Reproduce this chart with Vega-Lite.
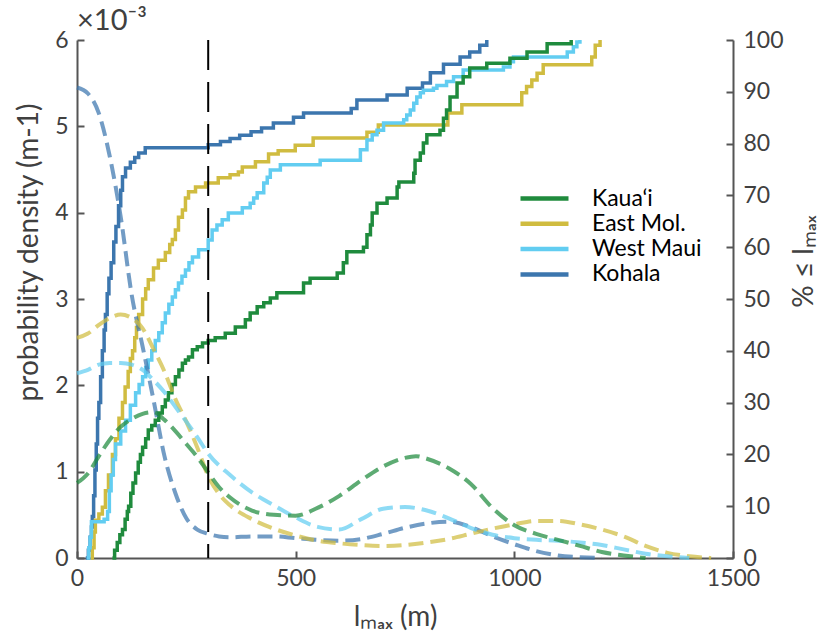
{
  "$schema": "https://vega.github.io/schema/vega-lite/v6.json",
  "width": 656,
  "height": 518,
  "autosize": {"type": "none"},
  "padding": {"left": 77, "top": 40, "right": 89, "bottom": 78},
  "background": "white",
  "title": {"text": "×10⁻³", "anchor": "start", "frame": "group", "fontSize": 29, "font": "Lato", "fontWeight": "normal", "color": "#404040", "baseline": "alphabetic", "offset": -30},
  "config": {
    "view": {"stroke": null},
    "axis": {"grid": false, "domainColor": "#555555", "domainWidth": 2, "tickColor": "#555555", "tickWidth": 2, "labelColor": "#404040", "titleColor": "#404040", "labelFont": "Lato", "titleFont": "Lato", "labelFontSize": 23, "titleFontSize": 28, "titleFontWeight": "normal"}
  },
  "datasets": {
    "cdf": [
      {"site": "Kohala", "x": 20, "pct": 0}, {"site": "Kohala", "x": 26, "pct": 1.5}, {"site": "Kohala", "x": 30, "pct": 4}, {"site": "Kohala", "x": 33, "pct": 6}, {"site": "Kohala", "x": 35, "pct": 8}, {"site": "Kohala", "x": 38, "pct": 12}, {"site": "Kohala", "x": 41, "pct": 17}, {"site": "Kohala", "x": 44, "pct": 22}, {"site": "Kohala", "x": 47, "pct": 27}, {"site": "Kohala", "x": 50, "pct": 30}, {"site": "Kohala", "x": 54, "pct": 35}, {"site": "Kohala", "x": 58, "pct": 40}, {"site": "Kohala", "x": 62, "pct": 44}, {"site": "Kohala", "x": 65, "pct": 47}, {"site": "Kohala", "x": 69, "pct": 51}, {"site": "Kohala", "x": 73, "pct": 54}, {"site": "Kohala", "x": 78, "pct": 57}, {"site": "Kohala", "x": 84, "pct": 61}, {"site": "Kohala", "x": 89, "pct": 64}, {"site": "Kohala", "x": 95, "pct": 68}, {"site": "Kohala", "x": 100, "pct": 71}, {"site": "Kohala", "x": 104, "pct": 73.6}, {"site": "Kohala", "x": 111, "pct": 75.3}, {"site": "Kohala", "x": 122, "pct": 76.4}, {"site": "Kohala", "x": 132, "pct": 77.3}, {"site": "Kohala", "x": 141, "pct": 78.2}, {"site": "Kohala", "x": 156, "pct": 79.2}, {"site": "Kohala", "x": 300, "pct": 79.8}, {"site": "Kohala", "x": 328, "pct": 80.4}, {"site": "Kohala", "x": 350, "pct": 81}, {"site": "Kohala", "x": 372, "pct": 81.6}, {"site": "Kohala", "x": 398, "pct": 82.3}, {"site": "Kohala", "x": 422, "pct": 83}, {"site": "Kohala", "x": 449, "pct": 84}, {"site": "Kohala", "x": 495, "pct": 85.1}, {"site": "Kohala", "x": 518, "pct": 85.9}, {"site": "Kohala", "x": 627, "pct": 86.8}, {"site": "Kohala", "x": 640, "pct": 88.4}, {"site": "Kohala", "x": 709, "pct": 89.4}, {"site": "Kohala", "x": 755, "pct": 90.7}, {"site": "Kohala", "x": 790, "pct": 91.7}, {"site": "Kohala", "x": 808, "pct": 93.7}, {"site": "Kohala", "x": 838, "pct": 95.3}, {"site": "Kohala", "x": 876, "pct": 96.7}, {"site": "Kohala", "x": 898, "pct": 97.7}, {"site": "Kohala", "x": 921, "pct": 99}, {"site": "Kohala", "x": 937, "pct": 100},
      {"site": "East Mol.", "x": 31, "pct": 0}, {"site": "East Mol.", "x": 35, "pct": 2}, {"site": "East Mol.", "x": 39, "pct": 5}, {"site": "East Mol.", "x": 42, "pct": 7.3}, {"site": "East Mol.", "x": 50, "pct": 8.5}, {"site": "East Mol.", "x": 58, "pct": 9.8}, {"site": "East Mol.", "x": 65, "pct": 13}, {"site": "East Mol.", "x": 72, "pct": 16}, {"site": "East Mol.", "x": 81, "pct": 20}, {"site": "East Mol.", "x": 88, "pct": 23}, {"site": "East Mol.", "x": 96, "pct": 27}, {"site": "East Mol.", "x": 104, "pct": 30}, {"site": "East Mol.", "x": 110, "pct": 33}, {"site": "East Mol.", "x": 117, "pct": 36}, {"site": "East Mol.", "x": 122, "pct": 38.5}, {"site": "East Mol.", "x": 127, "pct": 40}, {"site": "East Mol.", "x": 132, "pct": 42.5}, {"site": "East Mol.", "x": 136, "pct": 44.5}, {"site": "East Mol.", "x": 141, "pct": 47}, {"site": "East Mol.", "x": 150, "pct": 50}, {"site": "East Mol.", "x": 157, "pct": 52}, {"site": "East Mol.", "x": 163, "pct": 53.7}, {"site": "East Mol.", "x": 175, "pct": 56}, {"site": "East Mol.", "x": 186, "pct": 57.5}, {"site": "East Mol.", "x": 202, "pct": 59}, {"site": "East Mol.", "x": 212, "pct": 60.5}, {"site": "East Mol.", "x": 218, "pct": 61.5}, {"site": "East Mol.", "x": 225, "pct": 63.3}, {"site": "East Mol.", "x": 232, "pct": 65.8}, {"site": "East Mol.", "x": 241, "pct": 67.2}, {"site": "East Mol.", "x": 248, "pct": 69.5}, {"site": "East Mol.", "x": 255, "pct": 70.7}, {"site": "East Mol.", "x": 271, "pct": 71.6}, {"site": "East Mol.", "x": 294, "pct": 72.4}, {"site": "East Mol.", "x": 323, "pct": 73.4}, {"site": "East Mol.", "x": 350, "pct": 74}, {"site": "East Mol.", "x": 369, "pct": 74.5}, {"site": "East Mol.", "x": 378, "pct": 75.5}, {"site": "East Mol.", "x": 408, "pct": 76.5}, {"site": "East Mol.", "x": 438, "pct": 78}, {"site": "East Mol.", "x": 460, "pct": 78.6}, {"site": "East Mol.", "x": 499, "pct": 79.7}, {"site": "East Mol.", "x": 540, "pct": 81.1}, {"site": "East Mol.", "x": 663, "pct": 82.2}, {"site": "East Mol.", "x": 689, "pct": 83.6}, {"site": "East Mol.", "x": 848, "pct": 85.9}, {"site": "East Mol.", "x": 880, "pct": 87.5}, {"site": "East Mol.", "x": 1017, "pct": 89.8}, {"site": "East Mol.", "x": 1028, "pct": 91}, {"site": "East Mol.", "x": 1040, "pct": 92.3}, {"site": "East Mol.", "x": 1052, "pct": 93.6}, {"site": "East Mol.", "x": 1066, "pct": 95.2}, {"site": "East Mol.", "x": 1177, "pct": 96.7}, {"site": "East Mol.", "x": 1185, "pct": 99}, {"site": "East Mol.", "x": 1196, "pct": 100},
      {"site": "West Maui", "x": 22, "pct": 0}, {"site": "West Maui", "x": 27, "pct": 2}, {"site": "West Maui", "x": 30, "pct": 4}, {"site": "West Maui", "x": 33, "pct": 7}, {"site": "West Maui", "x": 62, "pct": 7.5}, {"site": "West Maui", "x": 70, "pct": 9}, {"site": "West Maui", "x": 74, "pct": 13}, {"site": "West Maui", "x": 78, "pct": 16}, {"site": "West Maui", "x": 83, "pct": 19}, {"site": "West Maui", "x": 88, "pct": 22}, {"site": "West Maui", "x": 100, "pct": 24.5}, {"site": "West Maui", "x": 111, "pct": 26.6}, {"site": "West Maui", "x": 122, "pct": 29.5}, {"site": "West Maui", "x": 134, "pct": 31.9}, {"site": "West Maui", "x": 142, "pct": 33.5}, {"site": "West Maui", "x": 150, "pct": 35}, {"site": "West Maui", "x": 157, "pct": 36.8}, {"site": "West Maui", "x": 163, "pct": 38.2}, {"site": "West Maui", "x": 171, "pct": 40}, {"site": "West Maui", "x": 179, "pct": 42}, {"site": "West Maui", "x": 187, "pct": 43.5}, {"site": "West Maui", "x": 195, "pct": 45.4}, {"site": "West Maui", "x": 202, "pct": 47.3}, {"site": "West Maui", "x": 210, "pct": 49}, {"site": "West Maui", "x": 218, "pct": 50.4}, {"site": "West Maui", "x": 225, "pct": 51.8}, {"site": "West Maui", "x": 232, "pct": 53.1}, {"site": "West Maui", "x": 240, "pct": 54.4}, {"site": "West Maui", "x": 248, "pct": 55.6}, {"site": "West Maui", "x": 256, "pct": 57}, {"site": "West Maui", "x": 264, "pct": 58.1}, {"site": "West Maui", "x": 278, "pct": 59.5}, {"site": "West Maui", "x": 300, "pct": 61.4}, {"site": "West Maui", "x": 309, "pct": 63.3}, {"site": "West Maui", "x": 320, "pct": 64.3}, {"site": "West Maui", "x": 332, "pct": 65.3}, {"site": "West Maui", "x": 346, "pct": 66.6}, {"site": "West Maui", "x": 378, "pct": 67.6}, {"site": "West Maui", "x": 396, "pct": 68.5}, {"site": "West Maui", "x": 404, "pct": 69.5}, {"site": "West Maui", "x": 412, "pct": 70.5}, {"site": "West Maui", "x": 427, "pct": 72.4}, {"site": "West Maui", "x": 435, "pct": 73.5}, {"site": "West Maui", "x": 442, "pct": 74.9}, {"site": "West Maui", "x": 465, "pct": 75.9}, {"site": "West Maui", "x": 556, "pct": 76.8}, {"site": "West Maui", "x": 648, "pct": 78.8}, {"site": "West Maui", "x": 663, "pct": 80.7}, {"site": "West Maui", "x": 675, "pct": 81.7}, {"site": "West Maui", "x": 686, "pct": 82.6}, {"site": "West Maui", "x": 701, "pct": 84}, {"site": "West Maui", "x": 747, "pct": 84.6}, {"site": "West Maui", "x": 754, "pct": 85.5}, {"site": "West Maui", "x": 762, "pct": 86.5}, {"site": "West Maui", "x": 770, "pct": 87.8}, {"site": "West Maui", "x": 777, "pct": 89}, {"site": "West Maui", "x": 785, "pct": 89.8}, {"site": "West Maui", "x": 792, "pct": 90.3}, {"site": "West Maui", "x": 815, "pct": 90.7}, {"site": "West Maui", "x": 823, "pct": 91.2}, {"site": "West Maui", "x": 845, "pct": 92}, {"site": "West Maui", "x": 861, "pct": 92.9}, {"site": "West Maui", "x": 883, "pct": 94.2}, {"site": "West Maui", "x": 975, "pct": 94.8}, {"site": "West Maui", "x": 990, "pct": 95.8}, {"site": "West Maui", "x": 998, "pct": 96.7}, {"site": "West Maui", "x": 1121, "pct": 97.7}, {"site": "West Maui", "x": 1135, "pct": 98.7}, {"site": "West Maui", "x": 1143, "pct": 99.6}, {"site": "West Maui", "x": 1150, "pct": 100},
      {"site": "Kaua‘i", "x": 81, "pct": 0}, {"site": "Kaua‘i", "x": 86, "pct": 1.5}, {"site": "Kaua‘i", "x": 92, "pct": 3}, {"site": "Kaua‘i", "x": 98, "pct": 4.5}, {"site": "Kaua‘i", "x": 104, "pct": 5.5}, {"site": "Kaua‘i", "x": 110, "pct": 7.5}, {"site": "Kaua‘i", "x": 115, "pct": 9}, {"site": "Kaua‘i", "x": 118, "pct": 10}, {"site": "Kaua‘i", "x": 123, "pct": 12.5}, {"site": "Kaua‘i", "x": 128, "pct": 14.5}, {"site": "Kaua‘i", "x": 134, "pct": 16.4}, {"site": "Kaua‘i", "x": 140, "pct": 18.5}, {"site": "Kaua‘i", "x": 145, "pct": 20}, {"site": "Kaua‘i", "x": 150, "pct": 21.4}, {"site": "Kaua‘i", "x": 157, "pct": 23}, {"site": "Kaua‘i", "x": 163, "pct": 24.7}, {"site": "Kaua‘i", "x": 171, "pct": 25.6}, {"site": "Kaua‘i", "x": 179, "pct": 26.6}, {"site": "Kaua‘i", "x": 187, "pct": 28}, {"site": "Kaua‘i", "x": 195, "pct": 29.2}, {"site": "Kaua‘i", "x": 202, "pct": 30.5}, {"site": "Kaua‘i", "x": 209, "pct": 31.9}, {"site": "Kaua‘i", "x": 217, "pct": 33.5}, {"site": "Kaua‘i", "x": 225, "pct": 35}, {"site": "Kaua‘i", "x": 233, "pct": 36.3}, {"site": "Kaua‘i", "x": 241, "pct": 37.6}, {"site": "Kaua‘i", "x": 248, "pct": 38.2}, {"site": "Kaua‘i", "x": 255, "pct": 38.8}, {"site": "Kaua‘i", "x": 264, "pct": 40.2}, {"site": "Kaua‘i", "x": 275, "pct": 40.8}, {"site": "Kaua‘i", "x": 287, "pct": 41.5}, {"site": "Kaua‘i", "x": 300, "pct": 42}, {"site": "Kaua‘i", "x": 316, "pct": 42.5}, {"site": "Kaua‘i", "x": 339, "pct": 43.4}, {"site": "Kaua‘i", "x": 362, "pct": 44.6}, {"site": "Kaua‘i", "x": 385, "pct": 46}, {"site": "Kaua‘i", "x": 396, "pct": 47.3}, {"site": "Kaua‘i", "x": 412, "pct": 48.5}, {"site": "Kaua‘i", "x": 427, "pct": 49.3}, {"site": "Kaua‘i", "x": 442, "pct": 50.2}, {"site": "Kaua‘i", "x": 457, "pct": 51.2}, {"site": "Kaua‘i", "x": 518, "pct": 53.1}, {"site": "Kaua‘i", "x": 533, "pct": 54}, {"site": "Kaua‘i", "x": 595, "pct": 55}, {"site": "Kaua‘i", "x": 609, "pct": 57}, {"site": "Kaua‘i", "x": 617, "pct": 59.1}, {"site": "Kaua‘i", "x": 655, "pct": 60}, {"site": "Kaua‘i", "x": 663, "pct": 62.4}, {"site": "Kaua‘i", "x": 671, "pct": 64.3}, {"site": "Kaua‘i", "x": 675, "pct": 66.6}, {"site": "Kaua‘i", "x": 686, "pct": 68.5}, {"site": "Kaua‘i", "x": 709, "pct": 69.5}, {"site": "Kaua‘i", "x": 732, "pct": 71.6}, {"site": "Kaua‘i", "x": 736, "pct": 72.6}, {"site": "Kaua‘i", "x": 770, "pct": 74.3}, {"site": "Kaua‘i", "x": 773, "pct": 76.8}, {"site": "Kaua‘i", "x": 785, "pct": 78.2}, {"site": "Kaua‘i", "x": 792, "pct": 80.1}, {"site": "Kaua‘i", "x": 800, "pct": 81.7}, {"site": "Kaua‘i", "x": 830, "pct": 82.6}, {"site": "Kaua‘i", "x": 838, "pct": 84.9}, {"site": "Kaua‘i", "x": 845, "pct": 86.5}, {"site": "Kaua‘i", "x": 853, "pct": 89}, {"site": "Kaua‘i", "x": 869, "pct": 91.7}, {"site": "Kaua‘i", "x": 883, "pct": 92.9}, {"site": "Kaua‘i", "x": 898, "pct": 94.6}, {"site": "Kaua‘i", "x": 937, "pct": 95.5}, {"site": "Kaua‘i", "x": 990, "pct": 96.5}, {"site": "Kaua‘i", "x": 1029, "pct": 97.7}, {"site": "Kaua‘i", "x": 1075, "pct": 99.3}, {"site": "Kaua‘i", "x": 1130, "pct": 100}
    ],
    "kde": [
      {"site": "Kohala", "x": 0, "density": 0.00545}, {"site": "Kohala", "x": 25, "density": 0.00538}, {"site": "Kohala", "x": 50, "density": 0.00515}, {"site": "Kohala", "x": 75, "density": 0.00465}, {"site": "Kohala", "x": 100, "density": 0.00395}, {"site": "Kohala", "x": 125, "density": 0.00305}, {"site": "Kohala", "x": 150, "density": 0.00245}, {"site": "Kohala", "x": 175, "density": 0.00183}, {"site": "Kohala", "x": 200, "density": 0.00118}, {"site": "Kohala", "x": 225, "density": 0.00075}, {"site": "Kohala", "x": 250, "density": 0.00046}, {"site": "Kohala", "x": 275, "density": 0.00033}, {"site": "Kohala", "x": 300, "density": 0.00028}, {"site": "Kohala", "x": 325, "density": 0.00025}, {"site": "Kohala", "x": 350, "density": 0.00024}, {"site": "Kohala", "x": 400, "density": 0.00025}, {"site": "Kohala", "x": 450, "density": 0.00025}, {"site": "Kohala", "x": 500, "density": 0.00023}, {"site": "Kohala", "x": 550, "density": 0.00021}, {"site": "Kohala", "x": 600, "density": 0.0002}, {"site": "Kohala", "x": 650, "density": 0.00022}, {"site": "Kohala", "x": 700, "density": 0.00028}, {"site": "Kohala", "x": 750, "density": 0.00035}, {"site": "Kohala", "x": 800, "density": 0.0004}, {"site": "Kohala", "x": 850, "density": 0.00042}, {"site": "Kohala", "x": 900, "density": 0.00036}, {"site": "Kohala", "x": 950, "density": 0.00025}, {"site": "Kohala", "x": 1000, "density": 0.00016}, {"site": "Kohala", "x": 1050, "density": 0.00008}, {"site": "Kohala", "x": 1100, "density": 0.00003}, {"site": "Kohala", "x": 1150, "density": 0.00001}, {"site": "Kohala", "x": 1200, "density": 0},
      {"site": "East Mol.", "x": 0, "density": 0.00255}, {"site": "East Mol.", "x": 25, "density": 0.0026}, {"site": "East Mol.", "x": 50, "density": 0.0027}, {"site": "East Mol.", "x": 75, "density": 0.00278}, {"site": "East Mol.", "x": 100, "density": 0.00282}, {"site": "East Mol.", "x": 125, "density": 0.00278}, {"site": "East Mol.", "x": 150, "density": 0.00266}, {"site": "East Mol.", "x": 175, "density": 0.00242}, {"site": "East Mol.", "x": 200, "density": 0.00216}, {"site": "East Mol.", "x": 225, "density": 0.00184}, {"site": "East Mol.", "x": 250, "density": 0.00158}, {"site": "East Mol.", "x": 275, "density": 0.00128}, {"site": "East Mol.", "x": 300, "density": 0.00095}, {"site": "East Mol.", "x": 325, "density": 0.00074}, {"site": "East Mol.", "x": 350, "density": 0.00061}, {"site": "East Mol.", "x": 400, "density": 0.00045}, {"site": "East Mol.", "x": 450, "density": 0.00034}, {"site": "East Mol.", "x": 500, "density": 0.00026}, {"site": "East Mol.", "x": 550, "density": 0.0002}, {"site": "East Mol.", "x": 600, "density": 0.00017}, {"site": "East Mol.", "x": 650, "density": 0.00015}, {"site": "East Mol.", "x": 700, "density": 0.00014}, {"site": "East Mol.", "x": 750, "density": 0.00015}, {"site": "East Mol.", "x": 800, "density": 0.00018}, {"site": "East Mol.", "x": 850, "density": 0.00022}, {"site": "East Mol.", "x": 900, "density": 0.00028}, {"site": "East Mol.", "x": 950, "density": 0.00034}, {"site": "East Mol.", "x": 1000, "density": 0.00039}, {"site": "East Mol.", "x": 1050, "density": 0.00043}, {"site": "East Mol.", "x": 1100, "density": 0.00043}, {"site": "East Mol.", "x": 1150, "density": 0.00039}, {"site": "East Mol.", "x": 1200, "density": 0.00033}, {"site": "East Mol.", "x": 1250, "density": 0.00025}, {"site": "East Mol.", "x": 1300, "density": 0.00014}, {"site": "East Mol.", "x": 1350, "density": 0.00006}, {"site": "East Mol.", "x": 1400, "density": 0.00002}, {"site": "East Mol.", "x": 1450, "density": 0},
      {"site": "West Maui", "x": 0, "density": 0.00214}, {"site": "West Maui", "x": 25, "density": 0.00218}, {"site": "West Maui", "x": 50, "density": 0.00224}, {"site": "West Maui", "x": 75, "density": 0.00226}, {"site": "West Maui", "x": 100, "density": 0.00226}, {"site": "West Maui", "x": 125, "density": 0.00224}, {"site": "West Maui", "x": 150, "density": 0.00218}, {"site": "West Maui", "x": 175, "density": 0.00206}, {"site": "West Maui", "x": 200, "density": 0.00192}, {"site": "West Maui", "x": 225, "density": 0.00175}, {"site": "West Maui", "x": 250, "density": 0.00158}, {"site": "West Maui", "x": 275, "density": 0.0014}, {"site": "West Maui", "x": 300, "density": 0.00121}, {"site": "West Maui", "x": 350, "density": 0.00096}, {"site": "West Maui", "x": 400, "density": 0.00076}, {"site": "West Maui", "x": 450, "density": 0.00061}, {"site": "West Maui", "x": 500, "density": 0.00047}, {"site": "West Maui", "x": 550, "density": 0.00036}, {"site": "West Maui", "x": 600, "density": 0.00033}, {"site": "West Maui", "x": 650, "density": 0.00045}, {"site": "West Maui", "x": 700, "density": 0.00057}, {"site": "West Maui", "x": 750, "density": 0.00059}, {"site": "West Maui", "x": 800, "density": 0.00055}, {"site": "West Maui", "x": 850, "density": 0.00046}, {"site": "West Maui", "x": 900, "density": 0.00035}, {"site": "West Maui", "x": 950, "density": 0.00027}, {"site": "West Maui", "x": 1000, "density": 0.00023}, {"site": "West Maui", "x": 1050, "density": 0.00021}, {"site": "West Maui", "x": 1100, "density": 0.0002}, {"site": "West Maui", "x": 1150, "density": 0.00018}, {"site": "West Maui", "x": 1200, "density": 0.00015}, {"site": "West Maui", "x": 1250, "density": 0.0001}, {"site": "West Maui", "x": 1300, "density": 0.00005}, {"site": "West Maui", "x": 1350, "density": 0.00002}, {"site": "West Maui", "x": 1400, "density": 0},
      {"site": "Kaua‘i", "x": 0, "density": 0.00087}, {"site": "Kaua‘i", "x": 25, "density": 0.00098}, {"site": "Kaua‘i", "x": 50, "density": 0.00118}, {"site": "Kaua‘i", "x": 75, "density": 0.00137}, {"site": "Kaua‘i", "x": 100, "density": 0.00152}, {"site": "Kaua‘i", "x": 125, "density": 0.00161}, {"site": "Kaua‘i", "x": 150, "density": 0.00167}, {"site": "Kaua‘i", "x": 175, "density": 0.00169}, {"site": "Kaua‘i", "x": 200, "density": 0.0016}, {"site": "Kaua‘i", "x": 225, "density": 0.00147}, {"site": "Kaua‘i", "x": 250, "density": 0.00132}, {"site": "Kaua‘i", "x": 275, "density": 0.00117}, {"site": "Kaua‘i", "x": 300, "density": 0.00099}, {"site": "Kaua‘i", "x": 325, "density": 0.00082}, {"site": "Kaua‘i", "x": 350, "density": 0.0007}, {"site": "Kaua‘i", "x": 400, "density": 0.00055}, {"site": "Kaua‘i", "x": 450, "density": 0.0005}, {"site": "Kaua‘i", "x": 500, "density": 0.00049}, {"site": "Kaua‘i", "x": 550, "density": 0.00058}, {"site": "Kaua‘i", "x": 600, "density": 0.00072}, {"site": "Kaua‘i", "x": 650, "density": 0.0009}, {"site": "Kaua‘i", "x": 700, "density": 0.00106}, {"site": "Kaua‘i", "x": 750, "density": 0.00116}, {"site": "Kaua‘i", "x": 775, "density": 0.00118}, {"site": "Kaua‘i", "x": 800, "density": 0.00115}, {"site": "Kaua‘i", "x": 850, "density": 0.00104}, {"site": "Kaua‘i", "x": 900, "density": 0.00086}, {"site": "Kaua‘i", "x": 950, "density": 0.00058}, {"site": "Kaua‘i", "x": 1000, "density": 0.00038}, {"site": "Kaua‘i", "x": 1050, "density": 0.00028}, {"site": "Kaua‘i", "x": 1100, "density": 0.00021}, {"site": "Kaua‘i", "x": 1150, "density": 0.00014}, {"site": "Kaua‘i", "x": 1200, "density": 0.00007}, {"site": "Kaua‘i", "x": 1250, "density": 0.00003}, {"site": "Kaua‘i", "x": 1300, "density": 0}
    ],
    "threshold": [{"x": 300}]
  },
  "layer": [
    {
      "data": {"name": "cdf"},
      "mark": {"type": "line", "interpolate": "step-after", "strokeWidth": 3.5},
      "encoding": {
        "x": {"field": "x", "type": "quantitative", "scale": {"domain": [0, 1500], "nice": false},
          "axis": {"values": [0, 500, 1000, 1500], "format": "d", "labelFlush": false, "tickSize": -7, "labelPadding": 16, "title": "lₘₐₓ (m)", "titleX": 318, "titleY": 67, "titleBaseline": "alphabetic", "titleAlign": "center"}},
        "y": {"field": "pct", "type": "quantitative", "scale": {"domain": [0, 100], "nice": false},
          "axis": {"orient": "right", "values": [0, 10, 20, 30, 40, 50, 60, 70, 80, 90, 100], "tickSize": -7, "labelPadding": 17, "title": "% ≤ lₘₐₓ", "titleAngle": 270, "titleX": 79, "titleY": 221, "titleBaseline": "alphabetic", "titleAlign": "center"}},
        "color": {"field": "site", "type": "nominal",
          "scale": {"domain": ["Kaua‘i", "East Mol.", "West Maui", "Kohala"], "range": ["#1f8b3d", "#d0bc40", "#62cdf1", "#3c76ae"]},
          "legend": {"orient": "none", "legendX": 456, "legendY": 147, "title": null, "symbolType": "M-4,0H4", "symbolSize": 144, "symbolStrokeWidth": 4.5, "symbolOpacity": 1, "labelFontSize": 23, "labelFont": "Lato", "labelColor": "black", "labelOffset": 36, "rowPadding": 1.3, "padding": 0}}
      }
    },
    {
      "data": {"name": "kde"},
      "mark": {"type": "line", "interpolate": "monotone", "strokeDash": [15, 7], "strokeWidth": 4, "opacity": 0.72},
      "encoding": {
        "x": {"field": "x", "type": "quantitative"},
        "y": {"field": "density", "type": "quantitative", "scale": {"domain": [0, 0.006], "nice": false},
          "axis": {"orient": "left", "values": [0, 0.001, 0.002, 0.003, 0.004, 0.005, 0.006], "labelExpr": "format(datum.value*1000, 'd')", "tickSize": -7, "labelPadding": 16, "title": "probability density (m-1)", "titleAngle": 270, "titleX": -40, "titleY": 212, "titleBaseline": "alphabetic", "titleAlign": "center"}},
        "color": {"field": "site", "type": "nominal", "legend": null}
      }
    },
    {
      "data": {"name": "threshold"},
      "mark": {"type": "rule", "strokeDash": [30, 12], "strokeWidth": 2, "color": "black"},
      "encoding": {"x": {"field": "x", "type": "quantitative"}}
    }
  ],
  "resolve": {"scale": {"y": "independent"}}
}
